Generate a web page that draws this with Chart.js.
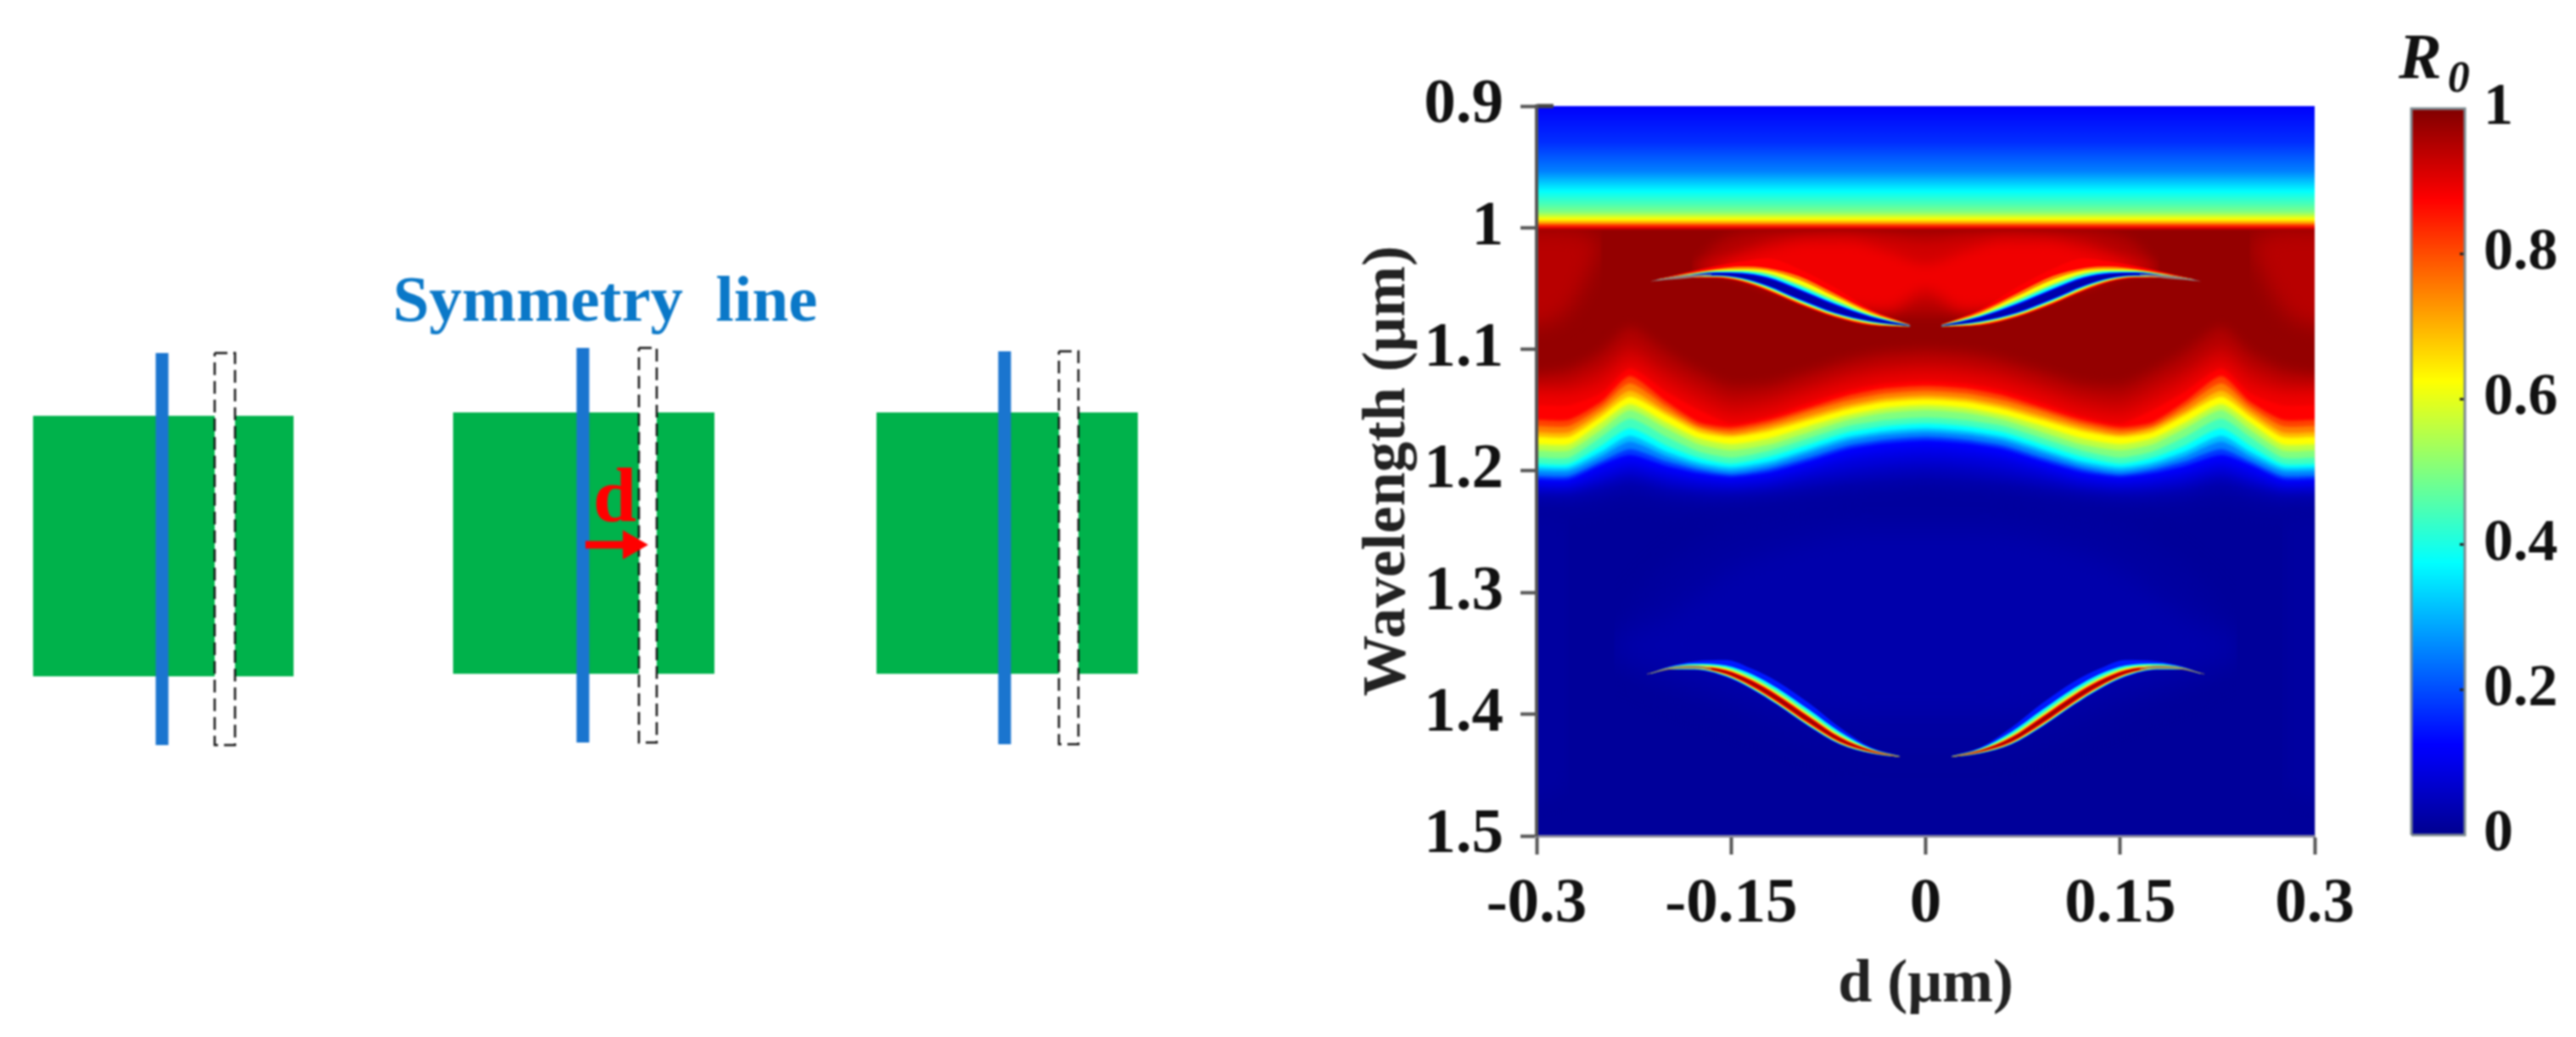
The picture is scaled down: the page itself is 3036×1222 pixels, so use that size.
<!DOCTYPE html>
<html>
<head>
<meta charset="utf-8">
<title>R0 map</title>
<script src="https://cdn.jsdelivr.net/npm/chart.js@4"></script>
<style>
  html, body { margin: 0; background: #fff; width: 3036px; height: 1222px; overflow: hidden; }
  canvas { position: absolute; filter: blur(1.1px); }
  #sketch { left: 0; top: 0; }
  #map { left: 1590px; top: 60px; }
  #bar { left: 2790px; top: 0; }
</style>
</head>
<body>
<canvas id="sketch" width="1560" height="1222"></canvas>
<canvas id="map" width="1200" height="1162"></canvas>
<canvas id="bar" width="246" height="1060"></canvas>
<script>
// axis labels
const xTicks = [-0.3, -0.15, 0, 0.15, 0.3];
const xTickLabels = ["-0.3", "-0.15", "0", "0.15", "0.3"];
const yTicks = [0.9, 1, 1.1, 1.2, 1.3, 1.4, 1.5];
const yTickLabels = ["0.9", "1", "1.1", "1.2", "1.3", "1.4", "1.5"];
const barTicks = [0, 0.2, 0.4, 0.6, 0.8, 1];
const barTickLabels = ["0", "0.2", "0.4", "0.6", "0.8", "1"];

// jet colormap
const jetPos = [0, 0.11, 0.125, 0.375, 0.625, 0.875, 1];
const jetRgb = [[0,0,143], [0,0,245], [0,0,255], [0,255,255], [255,255,0], [255,0,0], [128,0,0]];

// band above 1 um: wavelength, R0
const topWave = [0.9, 0.93, 0.9535, 0.97, 0.981, 0.987, 0.9895, 0.993, 0.996, 0.998, 1.0, 1.002];
const topR = [0.12, 0.17, 0.25, 0.375, 0.45, 0.5, 0.55, 0.625, 0.72, 0.82, 0.9, 0.97];
const plateauR = 0.98;

// contours of the broad edge, |d| and wavelength per R0 level
const bandD = [0, 0.03, 0.06, 0.09, 0.12, 0.15, 0.175, 0.2, 0.228, 0.25, 0.275, 0.3];
const bandR = [0.95, 0.92, 0.89, 0.875, 0.81, 0.75, 0.69, 0.625, 0.56, 0.5, 0.44, 0.375, 0.31, 0.25, 0.18, 0.125, 0.1, 0.08, 0.06, 0.045, 0.03, 0.02, 0.012];
const bandWave = [
  [1.100, 1.102, 1.108, 1.118, 1.128, 1.130, 1.118, 1.102, 1.082, 1.102, 1.116, 1.120],
  [1.110, 1.112, 1.118, 1.128, 1.138, 1.142, 1.130, 1.116, 1.098, 1.115, 1.126, 1.128],
  [1.120, 1.122, 1.128, 1.138, 1.149, 1.154, 1.143, 1.128, 1.110, 1.128, 1.136, 1.136],
  [1.126, 1.128, 1.134, 1.144, 1.155, 1.161, 1.150, 1.135, 1.116, 1.136, 1.146, 1.146],
  [1.130, 1.132, 1.138, 1.148, 1.158, 1.164, 1.160, 1.143, 1.122, 1.143, 1.158, 1.158],
  [1.134, 1.136, 1.142, 1.151, 1.161, 1.167, 1.163, 1.147, 1.128, 1.147, 1.163, 1.163],
  [1.138, 1.140, 1.146, 1.155, 1.164, 1.170, 1.165, 1.151, 1.134, 1.151, 1.168, 1.168],
  [1.141, 1.143, 1.149, 1.158, 1.167, 1.172, 1.168, 1.154, 1.139, 1.155, 1.172, 1.172],
  [1.146, 1.148, 1.154, 1.163, 1.173, 1.178, 1.173, 1.160, 1.145, 1.160, 1.178, 1.178],
  [1.150, 1.152, 1.158, 1.168, 1.178, 1.183, 1.178, 1.165, 1.150, 1.166, 1.183, 1.183],
  [1.156, 1.158, 1.163, 1.173, 1.183, 1.189, 1.184, 1.172, 1.157, 1.172, 1.189, 1.189],
  [1.161, 1.163, 1.168, 1.178, 1.188, 1.194, 1.189, 1.179, 1.165, 1.179, 1.194, 1.194],
  [1.165, 1.167, 1.172, 1.182, 1.192, 1.197, 1.193, 1.184, 1.171, 1.184, 1.197, 1.197],
  [1.168, 1.170, 1.175, 1.185, 1.195, 1.200, 1.196, 1.188, 1.176, 1.188, 1.200, 1.200],
  [1.172, 1.174, 1.179, 1.189, 1.198, 1.203, 1.199, 1.192, 1.182, 1.192, 1.204, 1.204],
  [1.175, 1.177, 1.182, 1.192, 1.201, 1.205, 1.202, 1.196, 1.187, 1.195, 1.207, 1.207],
  [1.180, 1.182, 1.187, 1.196, 1.204, 1.208, 1.205, 1.200, 1.192, 1.199, 1.210, 1.210],
  [1.186, 1.188, 1.192, 1.200, 1.208, 1.211, 1.209, 1.204, 1.197, 1.204, 1.213, 1.213],
  [1.193, 1.195, 1.199, 1.205, 1.212, 1.215, 1.213, 1.209, 1.202, 1.209, 1.216, 1.216],
  [1.199, 1.201, 1.205, 1.210, 1.216, 1.218, 1.217, 1.213, 1.206, 1.212, 1.219, 1.219],
  [1.205, 1.207, 1.210, 1.215, 1.219, 1.221, 1.220, 1.217, 1.210, 1.216, 1.221, 1.221],
  [1.213, 1.215, 1.218, 1.222, 1.226, 1.228, 1.227, 1.224, 1.218, 1.223, 1.228, 1.228],
  [1.222, 1.224, 1.226, 1.229, 1.232, 1.234, 1.233, 1.231, 1.226, 1.230, 1.234, 1.234]
];

// lighter hat between the upper crescents
const hatD = [0, 0.03, 0.06, 0.09, 0.12, 0.14, 0.16, 0.18];
const hatR = [0.95, 0.92, 0.89];
const hatTop = [
  [1.002, 1.002, 1.002, 1.002, 1.002, 1.004, 1.012, 1.032],
  [1.012, 1.008, 1.005, 1.006, 1.010, 1.018, 1.027, 1.034],
  [1.030, 1.020, 1.012, 1.012, 1.018, 1.024, 1.030, 1.0345]
];
const hatBottom = [
  [1.072, 1.072, 1.068, 1.060, 1.050, 1.042, 1.036, 1.034],
  [1.060, 1.070, 1.066, 1.057, 1.047, 1.040, 1.034, 1.034],
  [1.050, 1.065, 1.063, 1.054, 1.044, 1.037, 1.033, 1.0345]
];

// lighter corners of the plateau near the side edges
const cornerD = [0.25, 0.265, 0.28, 0.3, 0.33];
const cornerR = 0.945;
const cornerTop = [1.012, 1.004, 1.002, 1.002, 1.002];
const cornerBottom = [1.012, 1.05, 1.072, 1.08, 1.08];

// slightly lighter patches in the dark blue part
const patchD = [0, 0.05, 0.1, 0.15, 0.2, 0.24];
const patchR = [0.018, 0.03];
const patchTop = [
  [1.225, 1.225, 1.23, 1.245, 1.28, 1.33],
  [1.25, 1.25, 1.26, 1.28, 1.32, 1.34]
];
const patchBottom = [
  [1.43, 1.43, 1.42, 1.40, 1.38, 1.36],
  [1.40, 1.40, 1.395, 1.38, 1.365, 1.35]
];
const stripD = [0.275, 0.3, 0.33];
const stripR = 0.018;
const stripTop = [1.24, 1.235, 1.235];
const stripBottom = [1.46, 1.47, 1.47];

// upper crescent: ridge and offsets of each colour above / below it
const upperD = [0.012, 0.042, 0.07, 0.098, 0.122, 0.142, 0.161, 0.185, 0.207];
const upperWave = [1.0807, 1.0754, 1.0672, 1.0557, 1.0452, 1.0399, 1.0383, 1.0399, 1.0429];
const upperR = [0.875, 0.75, 0.62, 0.5, 0.37, 0.14, 0.03];
const upperUp = [
  [0.001, 0.008, 0.018, 0.022, 0.02, 0.012, 0.007, 0.003, 0.0005],
  [0.0008, 0.0065, 0.013, 0.016, 0.012, 0.008, 0.0045, 0.002, 0.0004],
  [0.0006, 0.005, 0.0105, 0.013, 0.01, 0.006, 0.0035, 0.0015, 0.0003],
  [0.0005, 0.004, 0.008, 0.0095, 0.008, 0.0048, 0.0028, 0.0012, 0.0002],
  [0.0004, 0.0032, 0.0062, 0.0078, 0.0062, 0.0038, 0.0022, 0.0009, 0.0002],
  [0.0003, 0.0024, 0.0046, 0.0056, 0.0046, 0.0028, 0.0016, 0.0006, 0.0001],
  [0.0001, 0.0014, 0.0032, 0.0042, 0.0032, 0.0017, 0.0008, 0.0002, 0.0001]
];
const upperDown = [
  [0.0008, 0.005, 0.0065, 0.0072, 0.0068, 0.0045, 0.003, 0.0012, 0.0004],
  [0.0006, 0.0042, 0.0056, 0.0062, 0.0058, 0.0038, 0.0025, 0.001, 0.0003],
  [0.0005, 0.0035, 0.0048, 0.0054, 0.005, 0.0032, 0.002, 0.0008, 0.0002],
  [0.0004, 0.003, 0.0042, 0.0047, 0.0043, 0.0027, 0.0017, 0.0007, 0.0002],
  [0.0003, 0.0024, 0.0036, 0.004, 0.0036, 0.0022, 0.0014, 0.0005, 0.0001],
  [0.0002, 0.0018, 0.003, 0.0032, 0.0028, 0.0017, 0.001, 0.0004, 0.0001],
  [0.0001, 0.0012, 0.0022, 0.0024, 0.002, 0.0012, 0.0006, 0.0002, 0.0001]
];
const upperTipD = [0.165, 0.185, 0.2, 0.212];
const upperTipWave = [1.0385, 1.0403, 1.042, 1.044];
const upperTipHalf = [0.0004, 0.0013, 0.0008, 0.0001];

// lower crescent
const lowerD = [0.02, 0.042, 0.066, 0.09, 0.114, 0.134, 0.154, 0.178, 0.198, 0.212];
const lowerWave = [1.4349, 1.4303, 1.421, 1.4048, 1.3873, 1.3746, 1.3654, 1.3614, 1.3623, 1.3665];
const lowerR = [0.15, 0.37, 0.5, 0.62, 0.875, 0.97];
const lowerUp = [
  [0.0005, 0.003, 0.01, 0.014, 0.014, 0.012, 0.01, 0.005, 0.0015, 0.0003],
  [0.0004, 0.0022, 0.0065, 0.0085, 0.0085, 0.0075, 0.0055, 0.003, 0.001, 0.0002],
  [0.0003, 0.0016, 0.0048, 0.0062, 0.0062, 0.0054, 0.004, 0.002, 0.0006, 0.0001],
  [0.0002, 0.0012, 0.0032, 0.0042, 0.0042, 0.0036, 0.0028, 0.0012, 0.0004, 0.0001],
  [0.0001, 0.0008, 0.0022, 0.003, 0.003, 0.0026, 0.0018, 0.0007, 0.0002, 0.0001],
  [0.0001, 0.0003, 0.0011, 0.0016, 0.0016, 0.0013, 0.0008, 0.0002, 0.0001, 0]
];
const lowerDown = [
  [0.0004, 0.002, 0.004, 0.0055, 0.0055, 0.005, 0.004, 0.002, 0.001, 0.0003],
  [0.0003, 0.0017, 0.0034, 0.0048, 0.0048, 0.0043, 0.0032, 0.0016, 0.0007, 0.0002],
  [0.0003, 0.0015, 0.0031, 0.0043, 0.0043, 0.0038, 0.0028, 0.0014, 0.0005, 0.0002],
  [0.0002, 0.0012, 0.0027, 0.0038, 0.0038, 0.0033, 0.0024, 0.0012, 0.0004, 0.0001],
  [0.0001, 0.0008, 0.002, 0.003, 0.003, 0.0026, 0.0017, 0.0008, 0.0003, 0.0001],
  [0.0001, 0.0003, 0.0011, 0.0016, 0.0016, 0.0013, 0.0008, 0.0002, 0.0001, 0]
];
const lowerTipD = [0.165, 0.178, 0.195, 0.215];
const lowerTipWave = [1.3625, 1.3612, 1.362, 1.367];
const lowerTipHalf = [0.0004, 0.0012, 0.0009, 0.0002];

// schematic, in sketch units
const squareLeft = [39, 534, 1033];
const squareRight = [346, 842, 1341];
const squareTop = [490, 486, 486];
const squareBottom = [797, 794, 794];
const lineX = [191, 687, 1184];
const lineTop = [416, 410, 414];
const lineBottom = [878, 875, 877];
const slitLeft = [253, 753, 1248];
const slitRight = [277, 774, 1271];
const slitTop = [416, 410, 414];
const slitBottom = [878, 875, 877];
const arrowTail = [690, 642];
const arrowNeck = [740, 642];
const arrowHead = [744, 642];

function jet(r) {
  let i = 0;
  while (i < jetPos.length - 2 && r > jetPos[i + 1]) i++;
  const t = Math.min(1, Math.max(0, (r - jetPos[i]) / (jetPos[i + 1] - jetPos[i])));
  const c = jetRgb[i].map((v, k) => Math.round(v + (jetRgb[i + 1][k] - v) * t));
  return `rgb(${c[0]},${c[1]},${c[2]})`;
}

function pairs(xs, ys) {
  return xs.map((x, i) => ({ x: x, y: ys[i] }));
}
function flipped(xs, ys) {
  return pairs(xs.map(v => -v).reverse(), ys.slice().reverse());
}
function mirrored(xs, ys) {
  const from = xs[0] === 0 ? 1 : 0;
  return flipped(xs.slice(from), ys.slice(from)).concat(pairs(xs, ys));
}
// band contours run on past the frame, so blurred fills keep their side edges
function pastFrame(xs, ys) {
  const data = mirrored(xs, ys);
  const last = ys[ys.length - 1];
  return [{ x: -0.33, y: last }].concat(data, [{ x: 0.33, y: last }]);
}

const mapSets = [];
function addArea(data, fill, color, soft, smooth) {
  const set = {
    data: data,
    showLine: true,
    pointRadius: 0,
    borderWidth: 0,
    fill: fill,
    backgroundColor: color,
    soft: soft,
    order: -mapSets.length
  };
  if (smooth) set.tension = smooth;
  else set.cubicInterpolationMode = "monotone";
  mapSets.push(set);
}
function addLens(top, bottom, color, soft) {
  addArea(top, "+1", color, soft);
  addArea(bottom, false, "transparent");
}

function topGradient(ctx) {
  const chart = ctx.chart;
  if (!chart.chartArea) return "transparent";
  const y = chart.scales.y;
  const y0 = y.getPixelForValue(topWave[0]);
  const y1 = y.getPixelForValue(topWave[topWave.length - 1]);
  const g = chart.ctx.createLinearGradient(0, y0, 0, y1);
  topWave.forEach((w, i) => {
    g.addColorStop((y.getPixelForValue(w) - y0) / (y1 - y0), jet(topR[i]));
  });
  return g;
}

// plateau first, soft patches on it, then the edge, the top band, the crescents
addArea(pairs([-0.3, 0.3], [1.0, 1.0]), { value: 1.6 }, jet(plateauR));

hatR.forEach((r, k) => {
  addLens(mirrored(hatD, hatTop[k]), mirrored(hatD, hatBottom[k]), jet(r), 7);
});
addLens(pairs(cornerD, cornerTop), pairs(cornerD, cornerBottom), jet(cornerR), 12);
addLens(flipped(cornerD, cornerTop), flipped(cornerD, cornerBottom), jet(cornerR), 12);

bandR.forEach((r, k) => {
  let soft = 1.6;
  if (r > 0.875) soft = 7;
  else if (r < 0.02) soft = 10;
  else if (r < 0.125) soft = 4;
  addArea(pastFrame(bandD, bandWave[k]), { value: 1.6 }, jet(r), soft, 0.22);
});

patchR.forEach((r, k) => {
  addLens(mirrored(patchD, patchTop[k]), mirrored(patchD, patchBottom[k]), jet(r), 14);
});
addLens(pairs(stripD, stripTop), pairs(stripD, stripBottom), jet(stripR), 10);
addLens(flipped(stripD, stripTop), flipped(stripD, stripBottom), jet(stripR), 10);

addArea(pairs([-0.3, 0.3], [0.9, 0.9]), { value: 1.002 }, topGradient);

function addCrescent(ds, ridge, rs, ups, downs) {
  rs.forEach((r, k) => {
    const top = ridge.map((w, i) => w - ups[k][i]);
    const bot = ridge.map((w, i) => w + downs[k][i]);
    addLens(pairs(ds, top), pairs(ds, bot), jet(r));
    addLens(flipped(ds, top), flipped(ds, bot), jet(r));
  });
}
function addTip(ds, ridge, half, color) {
  const top = ridge.map((w, i) => w - half[i]);
  const bot = ridge.map((w, i) => w + half[i]);
  addLens(pairs(ds, top), pairs(ds, bot), color);
  addLens(flipped(ds, top), flipped(ds, bot), color);
}
addCrescent(upperD, upperWave, upperR, upperUp, upperDown);
addTip(upperTipD, upperTipWave, upperTipHalf, "#8f7f7f");
addCrescent(lowerD, lowerWave, lowerR, lowerUp, lowerDown);
addTip(lowerTipD, lowerTipWave, lowerTipHalf, "#9c8a5a");

// short inner tick at the top left corner
mapSets.push({
  data: pairs([-0.3, -0.287], [0.9, 0.9]),
  showLine: true, pointRadius: 0, borderWidth: 5, borderColor: "#444",
  fill: false, clip: 6, order: -mapSets.length
});

// blur for the next fill; datasets are painted in array order here
const softEdge = {
  id: "softEdge",
  afterDatasetDraw(chart, args) {
    const next = chart.data.datasets[args.index + 1];
    chart.ctx.filter = next && next.soft ? `blur(${next.soft}px)` : "none";
  },
  afterDatasetsDraw(chart) {
    chart.ctx.filter = "none";
  }
};

function noteText(notes) {
  return {
    id: "noteText",
    afterDraw(chart) {
      const ctx = chart.ctx;
      ctx.save();
      ctx.textBaseline = "alphabetic";
      notes.forEach(n => {
        ctx.font = n.font;
        ctx.fillStyle = n.color;
        ctx.fillText(n.text, chart.scales.x.getPixelForValue(n.x), chart.scales.y.getPixelForValue(n.y));
      });
      ctx.restore();
    }
  };
}

const serif = "'Liberation Serif'";
Chart.defaults.font.family = serif;
Chart.defaults.animation = false;
Chart.defaults.devicePixelRatio = 1;
Chart.defaults.layout.autoPadding = false;
Chart.defaults.plugins.legend.display = false;
Chart.defaults.plugins.tooltip.enabled = false;

// left: the three unit cells
const sketchSets = [];
function rectArea(i, l, r, t, b, color) {
  sketchSets.push({
    data: pairs([l[i], r[i]], [t[i], t[i]]),
    showLine: true, pointRadius: 0, borderWidth: 0,
    fill: { value: b[i] }, backgroundColor: color
  });
}
squareLeft.forEach((_, i) => rectArea(i, squareLeft, squareRight, squareTop, squareBottom, "#00B24B"));
slitLeft.forEach((_, i) => {
  rectArea(i, slitLeft, slitRight, slitTop, slitBottom, "#ffffff");
  sketchSets.push({
    data: pairs(
      [slitLeft[i], slitRight[i], slitRight[i], slitLeft[i], slitLeft[i]],
      [slitTop[i], slitTop[i], slitBottom[i], slitBottom[i], slitTop[i]]),
    showLine: true, pointRadius: 0, borderWidth: 2.5, borderColor: "#111",
    borderDash: [15, 7], fill: false
  });
});
lineX.forEach((x, i) => {
  sketchSets.push({
    data: pairs([x, x], [lineTop[i], lineBottom[i]]),
    showLine: true, pointRadius: 0, borderWidth: 15, borderColor: "#1A75CF", fill: false
  });
});
sketchSets.push({
  data: pairs([arrowTail[0], arrowNeck[0]], [arrowTail[1], arrowNeck[1]]),
  showLine: true, pointRadius: 0, borderWidth: 9, borderColor: "#FF0000", fill: false
});
sketchSets.push({
  data: pairs([arrowHead[0]], [arrowHead[1]]),
  showLine: false, pointStyle: "triangle", rotation: 90, pointRadius: 20,
  pointBackgroundColor: "#FF0000", pointBorderWidth: 0
});
sketchSets.forEach((d, i) => { d.order = -i; });

new Chart(document.getElementById("sketch"), {
  type: "scatter",
  data: { datasets: sketchSets },
  options: {
    responsive: false,
    scales: {
      x: { display: false, min: 0, max: 1560 },
      y: { display: false, min: 0, max: 1222, reverse: true }
    }
  },
  plugins: [noteText([
    { text: "Symmetry  line", x: 463, y: 378, font: `bold 77px ${serif}`, color: "#0A78C8" },
    { text: "d", x: 699, y: 614, font: `bold 92px ${serif}`, color: "#FF0000" }
  ])]
});

// middle: the R0 map
const axisFont = { size: 75, weight: "bold", family: serif };
new Chart(document.getElementById("map"), {
  type: "scatter",
  data: { datasets: mapSets },
  options: {
    responsive: false,
    layout: { padding: { top: 63, right: 59, left: 0, bottom: 0 } },
    scales: {
      x: {
        type: "linear", min: -0.3, max: 0.3,
        afterBuildTicks: s => { s.ticks = xTicks.map(v => ({ value: v })); },
        afterFit: s => { s.height = 237; },
        ticks: { font: axisFont, color: "#111", padding: 15, maxRotation: 0, autoSkip: false,
          callback: (v, i) => xTickLabels[i] },
        grid: { drawOnChartArea: false, tickLength: 22, tickWidth: 4, tickColor: "#555", z: 1 },
        border: { display: true, color: "#8a8aa0", width: 3, z: 1 },
        title: { display: true, text: "d (μm)", color: "#222", font: { size: 72, weight: "bold", family: serif },
          padding: { top: 0, bottom: 17 } }
      },
      y: {
        type: "linear", min: 0.9, max: 1.5, reverse: true,
        afterBuildTicks: s => { s.ticks = yTicks.map(v => ({ value: v })); },
        afterFit: s => { s.width = 221; },
        ticks: { font: axisFont, color: "#111", padding: 20, autoSkip: false,
          callback: (v, i) => yTickLabels[i] },
        grid: { drawOnChartArea: false, tickLength: 19, tickWidth: 4, tickColor: "#555", z: 1 },
        border: { display: true, color: "#555", width: 4, z: 1 },
        title: { display: true, text: "Wavelength (μm)", color: "#222", font: { size: 72, weight: "bold", family: serif },
          padding: { top: 3, bottom: 0 } }
      }
    }
  },
  plugins: [softEdge]
});

// right: the colour bar
function barGradient(ctx) {
  const chart = ctx.chart;
  if (!chart.chartArea) return "transparent";
  const y = chart.scales.y;
  const g = chart.ctx.createLinearGradient(0, y.getPixelForValue(0), 0, y.getPixelForValue(1));
  jetPos.forEach((p, i) => g.addColorStop(p, jet(p)));
  return g;
}
new Chart(document.getElementById("bar"), {
  type: "scatter",
  data: {
    datasets: [
      { data: pairs([0, 1, 1, 0, 0], [0, 0, 1, 1, 0]), showLine: true, pointRadius: 0,
        borderWidth: 3, borderColor: "#7c8a90", fill: false, clip: 4, order: -2 },
      { data: pairs(barTicks.slice(1, 5).map(() => 1), barTicks.slice(1, 5)), showLine: false,
        pointStyle: "line", pointRadius: 6, pointBorderColor: "#222", pointBorderWidth: 3, order: -1 },
      { data: pairs([0, 1], [1, 1]), showLine: true, pointRadius: 0, borderWidth: 0,
        fill: { value: 0 }, backgroundColor: barGradient, order: 0 }
    ]
  },
  options: {
    responsive: false,
    layout: { padding: { top: 128, left: 52, right: 0, bottom: 76 } },
    scales: {
      x: { display: false, min: 0, max: 1 },
      y: {
        type: "linear", position: "right", min: 0, max: 1,
        afterBuildTicks: s => { s.ticks = barTicks.map(v => ({ value: v })); },
        afterFit: s => { s.width = 131; },
        ticks: { font: { size: 70, weight: "bold", family: serif }, color: "#111", padding: 22, autoSkip: false,
          callback: (v, i) => barTickLabels[i] },
        grid: { display: false, drawTicks: false },
        border: { display: false }
      }
    }
  },
  plugins: [noteText([
    { text: "R", x: -0.24, y: 1.042, font: `italic bold 76px ${serif}`, color: "#111" },
    { text: "0", x: 0.68, y: 1.0234, font: `italic bold 52px ${serif}`, color: "#111" }
  ])]
});
</script>
</body>
</html>
